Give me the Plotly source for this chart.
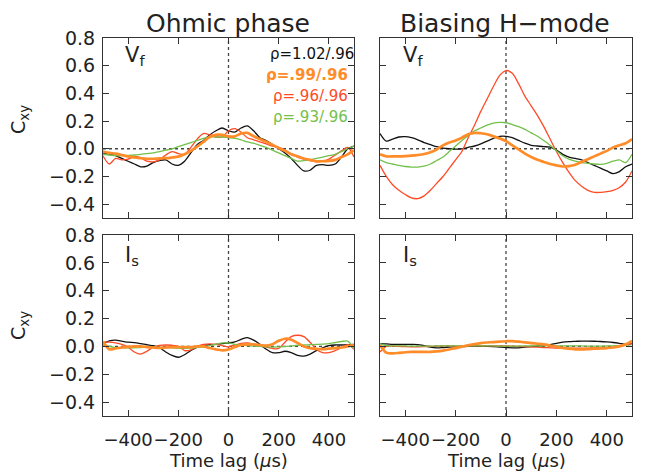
import plotly.graph_objects as go

# Time lag grid (microseconds)
lag = [-500, -475, -450, -425, -400, -375, -350, -325, -300, -275, -250,
       -225, -200, -175, -150, -125, -100, -75, -50, -25, 0,
       25, 50, 75, 100, 125, 150, 175, 200, 225, 250,
       275, 300, 325, 350, 375, 400, 425, 450, 475, 500]

# ---- Ohmic phase, Vf ----
ohm_vf_102 = [-0.03, -0.04, -0.05, -0.07, -0.09, -0.11, -0.13, -0.125, -0.10, -0.085, -0.08,
              -0.11, -0.12, -0.09, -0.03, 0.03, 0.06, 0.10, 0.13, 0.15, 0.13,
              0.12, 0.15, 0.165, 0.13, 0.08, 0.06, 0.03, 0.0, -0.03, -0.07,
              -0.12, -0.16, -0.155, -0.12, -0.115, -0.12, -0.11, -0.06, 0.0, 0.02]
ohm_vf_99 = [-0.02, -0.03, -0.035, -0.045, -0.055, -0.063, -0.068, -0.072, -0.072, -0.07, -0.068,
             -0.063, -0.057, -0.04, -0.015, 0.015, 0.05, 0.085, 0.10, 0.10, 0.09,
             0.09, 0.11, 0.115, 0.09, 0.07, 0.05, 0.03, 0.005, -0.015, -0.04,
             -0.055, -0.07, -0.08, -0.09, -0.09, -0.088, -0.08, -0.06, -0.04, -0.01]
ohm_vf_96 = [-0.05, -0.11, -0.07, -0.08, -0.075, -0.055, -0.065, -0.09, -0.095, -0.08, -0.045,
             -0.02, -0.035, -0.04, 0.01, 0.07, 0.11, 0.10, 0.085, 0.085, 0.13,
             0.145, 0.12, 0.08, 0.065, 0.05, 0.035, 0.02, 0.01, -0.01, -0.035,
             -0.06, -0.075, -0.085, -0.095, -0.09, -0.075, -0.045, -0.015, 0.01, -0.06]
ohm_vf_93 = [-0.04, -0.045, -0.05, -0.05, -0.048, -0.045, -0.04, -0.035, -0.03, -0.02, -0.01,
             0.0, 0.015, 0.03, 0.045, 0.06, 0.075, 0.085, 0.085, 0.085, 0.08,
             0.075, 0.065, 0.05, 0.04, 0.025, 0.01, -0.01, -0.03, -0.05, -0.07,
             -0.09, -0.085, -0.08, -0.07, -0.06, -0.05, -0.04, -0.02, 0.0, 0.02]

# ---- Biasing H-mode, Vf ----
hm_vf_102 = [0.11, 0.055, 0.07, 0.085, 0.088, 0.08, 0.065, 0.045, 0.03, 0.015, 0.005,
             0.0, -0.003, 0.0, 0.01, 0.02, 0.035, 0.055, 0.075, 0.09, 0.09,
             0.08, 0.06, 0.04, 0.025, 0.02, 0.015, 0.012, -0.01, -0.04, -0.06,
             -0.07, -0.08, -0.10, -0.12, -0.14, -0.16, -0.18, -0.165, -0.13, -0.11]
hm_vf_99 = [-0.04, -0.055, -0.055, -0.055, -0.053, -0.05, -0.045, -0.038, -0.025, -0.005, 0.025,
            0.045, 0.06, 0.08, 0.105, 0.115, 0.112, 0.105, 0.09, 0.075, 0.055,
            0.025, -0.005, -0.035, -0.06, -0.08, -0.095, -0.11, -0.12, -0.128, -0.125,
            -0.115, -0.095, -0.075, -0.055, -0.035, -0.015, 0.01, 0.025, 0.04, 0.07]
hm_vf_96 = [-0.12, -0.20, -0.26, -0.30, -0.33, -0.355, -0.36, -0.34, -0.30, -0.25, -0.20,
            -0.14, -0.08, -0.02, 0.08, 0.17, 0.27, 0.36, 0.45, 0.53, 0.565,
            0.545, 0.47, 0.38, 0.31, 0.24, 0.16, 0.07, -0.02, -0.10, -0.17,
            -0.23, -0.27, -0.30, -0.315, -0.315, -0.31, -0.30, -0.28, -0.24, -0.16]
hm_vf_93 = [-0.08, -0.10, -0.11, -0.12, -0.128, -0.132, -0.132, -0.125, -0.11, -0.085, -0.06,
            -0.02, 0.02, 0.06, 0.095, 0.13, 0.15, 0.17, 0.185, 0.19, 0.188,
            0.175, 0.16, 0.14, 0.115, 0.09, 0.06, 0.025, -0.015, -0.05, -0.075,
            -0.09, -0.10, -0.105, -0.11, -0.112, -0.105, -0.09, -0.08, -0.10, -0.04]

# ---- Ohmic phase, Is ----
ohm_is_102 = [0.02, 0.04, 0.045, 0.038, 0.03, 0.027, 0.02, 0.012, 0.005, -0.01, -0.04,
              -0.065, -0.078, -0.06, -0.03, -0.005, 0.008, 0.012, 0.015, 0.02, 0.025,
              0.032, 0.05, 0.063, 0.045, 0.015, -0.02, -0.045, -0.045, -0.035, -0.045,
              -0.065, -0.07, -0.055, -0.03, -0.01, 0.005, 0.01, 0.01, 0.012, 0.015]
ohm_is_99 = [0.035, -0.02, -0.015, -0.008, -0.003, 0.0, 0.0, -0.005, -0.008, -0.01, -0.008,
             -0.005, -0.005, -0.005, -0.005, 0.0, 0.0, -0.012, -0.022, -0.028, -0.022,
             -0.005, 0.01, 0.015, 0.014, 0.01, 0.005, 0.015, 0.04, 0.055, 0.048,
             0.025, 0.0, -0.012, -0.018, -0.02, -0.016, -0.012, -0.008, 0.0, 0.01]
ohm_is_96 = [0.03, 0.03, 0.025, 0.015, -0.005, -0.04, -0.055, -0.035, -0.005, 0.008, 0.01,
             0.008, 0.0, -0.03, -0.025, 0.0, 0.015, 0.018, 0.015, 0.005, -0.003,
             0.01, 0.022, 0.025, 0.015, 0.002, -0.005, -0.015, -0.015, 0.03, 0.07,
             0.08, 0.07, 0.03, -0.02, -0.045, -0.045, -0.03, -0.01, 0.012, -0.02]
ohm_is_93 = [0.01, 0.0, -0.008, -0.01, -0.01, -0.01, -0.008, -0.006, -0.005, -0.006, -0.008,
             -0.01, -0.013, -0.015, -0.012, -0.008, -0.003, 0.005, 0.015, 0.025, 0.025,
             0.015, 0.01, 0.005, 0.002, 0.0, -0.003, -0.005, -0.004, -0.002, 0.003,
             0.008, 0.01, 0.012, 0.014, 0.016, 0.02, 0.028, 0.035, 0.038, -0.02]

# ---- Biasing H-mode, Is ----
hm_is_102 = [0.02, 0.018, 0.015, 0.014, 0.014, 0.014, 0.013, 0.005, -0.005, -0.01, -0.008,
             -0.005, -0.003, -0.002, 0.0, 0.0, 0.0, 0.0, -0.002, -0.005, -0.008,
             -0.01, -0.01, -0.006, -0.002, 0.002, 0.005, 0.012, 0.022, 0.03, 0.034,
             0.036, 0.038, 0.038, 0.037, 0.035, 0.032, 0.028, 0.022, 0.015, 0.02]
hm_is_99 = [0.01, -0.045, -0.05, -0.047, -0.042, -0.04, -0.04, -0.04, -0.04, -0.036, -0.03,
            -0.022, -0.012, -0.002, 0.008, 0.017, 0.024, 0.028, 0.031, 0.034, 0.037,
            0.038, 0.034, 0.029, 0.024, 0.019, 0.014, 0.006, -0.003, -0.011, -0.017,
            -0.021, -0.022, -0.02, -0.017, -0.015, -0.012, -0.008, 0.0, 0.015, 0.04]
hm_is_96 = [-0.04, 0.0, 0.002, 0.0, -0.002, -0.003, -0.003, -0.002, 0.0, 0.002, 0.003,
            0.003, 0.002, 0.002, 0.003, 0.004, 0.004, 0.004, 0.003, 0.003, 0.003,
            0.002, 0.0, -0.002, -0.004, -0.006, -0.008, -0.01, -0.012, -0.012, -0.012,
            -0.012, -0.012, -0.012, -0.011, -0.01, -0.008, -0.005, 0.0, 0.01, 0.02]
hm_is_93 = [0.02, 0.005, 0.004, 0.003, 0.003, 0.002, 0.002, 0.002, 0.002, 0.003, 0.003,
            0.004, 0.004, 0.004, 0.004, 0.004, 0.003, 0.003, 0.003, 0.002, 0.002,
            0.002, 0.002, 0.003, 0.003, 0.004, 0.004, 0.004, 0.004, 0.004, 0.003,
            0.003, 0.003, 0.002, 0.002, 0.002, 0.003, 0.004, 0.005, 0.005, 0.0]

series_labels = ["ρ=1.02/.96", "ρ=.99/.96", "ρ=.96/.96", "ρ=.93/.96"]
column_titles = ["Ohmic phase", "Biasing H\u2212mode"]
row_labels = ["V<sub>f</sub>", "I<sub>s</sub>"]
x_title = "Time lag (<i>μ</i>s)"
y_title = "C<sub>xy</sub>"
x_ticks = [-400, -200, 0, 200, 400]
y_ticks = [-0.4, -0.2, 0.0, 0.2, 0.4, 0.6, 0.8]

colors = ["#111111", "#FF8C28", "#FF4A26", "#72C04A"]
widths = [1.3, 2.7, 1.3, 1.3]

panels = [
    ("x", "y", [ohm_vf_102, ohm_vf_99, ohm_vf_96, ohm_vf_93]),
    ("x2", "y2", [hm_vf_102, hm_vf_99, hm_vf_96, hm_vf_93]),
    ("x3", "y3", [ohm_is_102, ohm_is_99, ohm_is_96, ohm_is_93]),
    ("x4", "y4", [hm_is_102, hm_is_99, hm_is_96, hm_is_93]),
]

# page body has an 8px margin; figure sized to fit the 646x476 window
OFF = 8
W, H = 646 - OFF, 476 - OFF
def px(xp):
    return (xp - OFF) / W
def py(yp):
    return 1 - (yp - OFF) / H

fig = go.Figure()
draw_order = [0, 2, 3, 1]
for xa, ya, data in panels:
    for i in draw_order:
        fig.add_trace(go.Scatter(
            x=lag, y=data[i], mode="lines", xaxis=xa, yaxis=ya,
            line=dict(color=colors[i], width=widths[i], shape="spline", smoothing=0.8),
            showlegend=False, hoverinfo="skip"))

font_family = "DejaVu Sans"
axis_common = dict(showline=True, linecolor="#333333", linewidth=1, mirror="ticks",
                   ticks="inside", ticklen=6, tickwidth=1, tickcolor="#333333",
                   showgrid=False, zeroline=False, automargin=False, tickangle=0)

xdom_l = [px(103), px(354)]
xdom_r = [px(380), px(632)]
ydom_t = [py(218), py(38)]
ydom_b = [py(416), py(235)]

def xaxis(dom, anchor, labels):
    return dict(domain=dom, anchor=anchor, range=[-500, 500], tickvals=x_ticks,
                showticklabels=labels, ticklabelstandoff=7,
                tickfont=dict(family=font_family, size=18, color="#222"),
                **axis_common)

def yaxis(dom, anchor, labels):
    return dict(domain=dom, anchor=anchor, range=[-0.5, 0.8], tickvals=y_ticks,
                tickformat=".1f", showticklabels=labels, ticklabelstandoff=3,
                tickfont=dict(family=font_family, size=19, color="#222"), **axis_common)

fig.update_layout(
    template="none",
    width=W, height=H, margin=dict(l=0, r=0, t=0, b=0, pad=0), autosize=False,
    paper_bgcolor="white", plot_bgcolor="white",
    font=dict(family=font_family, size=18, color="#222"),
    xaxis=xaxis(xdom_l, "y", False), yaxis=yaxis(ydom_t, "x", True),
    xaxis2=xaxis(xdom_r, "y2", False), yaxis2=yaxis(ydom_t, "x2", False),
    xaxis3=xaxis(xdom_l, "y3", True), yaxis3=yaxis(ydom_b, "x3", True),
    xaxis4=xaxis(xdom_r, "y4", True), yaxis4=yaxis(ydom_b, "x4", False),
)

shapes = []
for xa, ya, _ in panels:
    shapes.append(dict(type="line", xref=xa, yref=ya, x0=-500, x1=500, y0=0, y1=0,
                       line=dict(color="#444", width=1.3, dash="dot"), layer="below"))
    shapes.append(dict(type="line", xref=xa, yref=ya, x0=0, x1=0, y0=-0.5, y1=0.8,
                       line=dict(color="#444", width=1.3, dash="dot"), layer="below"))
fig.update_layout(shapes=shapes)

def note(text, x, y, size, color="#222", xanchor="center", yanchor="middle", angle=0):
    return dict(text=text, x=px(x), y=py(y), xref="paper", yref="paper",
                xanchor=xanchor, yanchor=yanchor, textangle=angle, showarrow=False,
                borderpad=0, font=dict(family=font_family, size=size, color=color))

ann = []
ann.append(note(column_titles[0], 228, 8, 25, yanchor="top"))
ann.append(note(column_titles[1], 505, 8, 25, yanchor="top"))
for yc in (120, 326):
    ann.append(note(y_title, 19, yc, 19, angle=-90))
for xl, yl, lab in [(124, 56, row_labels[0]), (402, 56, row_labels[0]),
                    (124, 256, row_labels[1]), (402, 256, row_labels[1])]:
    ann.append(note(lab, xl, yl, 21, xanchor="left"))
leg_y = [54, 75, 96, 117]
leg_x = [355, 349, 349, 349]
for i in range(4):
    txt = series_labels[i]
    if i == 1:
        txt = "<b>" + txt + "</b>"
    ann.append(note(txt, leg_x[i], leg_y[i], 15, color=colors[i], xanchor="right"))
for xc in (228, 506):
    ann.append(note(x_title, xc, 460, 18))
fig.update_layout(annotations=ann)

fig.write_html("out.html")
